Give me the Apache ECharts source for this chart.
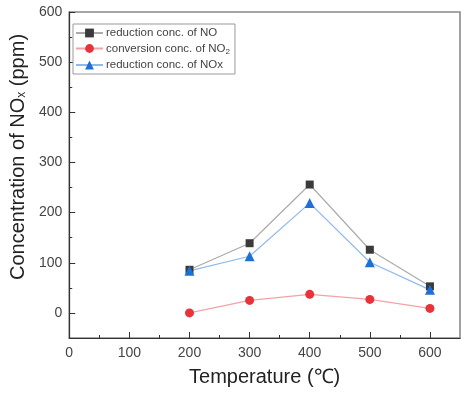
<!DOCTYPE html>
<html>
<head>
<meta charset="utf-8">
<script src="https://cdn.jsdelivr.net/npm/echarts@6/dist/echarts.min.js"></script>
<style>
html,body{margin:0;padding:0;background:#fff;}
#chart{width:468px;height:395px;}
</style>
</head>
<body>
<div id="chart"></div>
<script>
// Data
var temperatures = [200, 300, 400, 500, 600];
var noReduction = [86, 139, 256, 126, 53];
var no2Conversion = [0, 25, 37, 27, 9];
var noxReduction = [84, 113, 219, 101, 46];
var xTickLabels = [0, 100, 200, 300, 400, 500, 600];
var yTickLabels = [0, 100, 200, 300, 400, 500, 600];
var xMinorTicks = [50, 150, 250, 350, 450, 550];
var yMinorTicks = [50, 150, 250, 350, 450, 550];

function pairs(vals) {
  return temperatures.map(function (t, i) { return [t, vals[i]]; });
}

var FONT = '"Liberation Sans", Arial, sans-serif';
var chart = echarts.init(document.getElementById('chart'));

var subRich = {
  sub: { fontSize: 12, verticalAlign: 'bottom', padding: [8, 0, 0, 0], fontFamily: FONT, color: '#222' }
};

chart.setOption({
  animation: false,
  backgroundColor: '#fff',
  grid: {
    left: 57, right: 8, top: 12, bottom: 57,
    show: true, borderColor: '#8a8a8a', borderWidth: 1.6
  },
  legend: {
    orient: 'vertical',
    left: 73, top: 24,
    padding: [3, 5, 3, 2],
    itemWidth: 27, itemHeight: 11, itemGap: 3.5,
    borderColor: '#9a9a9a', borderWidth: 1,
    backgroundColor: '#fff',
    textStyle: {
      fontFamily: FONT, fontSize: 11.5, color: '#444', padding: [0, 0, 0, -2],
      rich: { sub: { fontSize: 8, verticalAlign: 'bottom', padding: [6, 0, 0, 0], fontFamily: FONT, color: '#444' } }
    },
    formatter: function (name) {
      if (name === 'conversion conc. of NO2') return 'conversion conc. of NO{sub|2}';
      return name;
    },
    data: ['reduction conc. of NO', 'conversion conc. of NO2', 'reduction conc. of NOx']
  },
  xAxis: [{
    type: 'value', min: 0, max: 650, position: 'bottom',
    axisLine: { show: true, onZero: false, lineStyle: { color: '#333', width: 1.2 } },
    axisTick: { show: true, inside: true, length: 6, customValues: xTickLabels, lineStyle: { color: '#333', width: 1 } },
    axisLabel: { customValues: xTickLabels, margin: 8, fontFamily: FONT, fontSize: 14, color: '#444' },
    splitLine: { show: false },
    name: 'Temperature (℃)', nameLocation: 'middle', nameGap: 29,
    nameTextStyle: { fontFamily: FONT, fontSize: 20, color: '#222' }
  }, {
    type: 'value', min: 0, max: 650, position: 'bottom', gridIndex: 0,
    axisLine: { show: false, onZero: false },
    axisTick: { show: true, inside: true, length: 3, customValues: xMinorTicks, lineStyle: { color: '#333', width: 1 } },
    axisLabel: { show: false },
    splitLine: { show: false }
  }],
  yAxis: [{
    type: 'value', min: -50, max: 600, position: 'left',
    axisLine: { show: true, onZero: false, lineStyle: { color: '#333', width: 1.2 } },
    axisTick: { show: true, inside: true, length: 6, customValues: yTickLabels, lineStyle: { color: '#333', width: 1 } },
    axisLabel: { customValues: yTickLabels, margin: 7, fontFamily: FONT, fontSize: 14, color: '#444' },
    splitLine: { show: false },
    name: 'Concentration of NO{sub|x} (ppm)', nameLocation: 'middle', nameGap: 34,
    nameTextStyle: { fontFamily: FONT, fontSize: 20, color: '#222', rich: subRich, padding: [0, 0, 0, 36] }
  }, {
    type: 'value', min: -50, max: 600, position: 'left', gridIndex: 0,
    axisLine: { show: false, onZero: false },
    axisTick: { show: true, inside: true, length: 3, customValues: yMinorTicks, lineStyle: { color: '#333', width: 1 } },
    axisLabel: { show: false },
    splitLine: { show: false }
  }],
  series: [{
    name: 'reduction conc. of NO', type: 'line', xAxisIndex: 0, yAxisIndex: 0,
    data: pairs(noReduction),
    symbol: 'rect', symbolSize: 8,
    itemStyle: { color: '#3a3a3a' },
    lineStyle: { color: '#ababab', width: 1.2 }
  }, {
    name: 'conversion conc. of NO2', type: 'line', xAxisIndex: 0, yAxisIndex: 0,
    data: pairs(no2Conversion),
    symbol: 'circle', symbolSize: 9,
    itemStyle: { color: '#e8333a' },
    lineStyle: { color: '#f2a3a5', width: 1.2 }
  }, {
    name: 'reduction conc. of NOx', type: 'line', xAxisIndex: 0, yAxisIndex: 0,
    data: pairs(noxReduction),
    symbol: 'triangle', symbolSize: 10,
    itemStyle: { color: '#1f6fd8' },
    lineStyle: { color: '#8fb9ec', width: 1.2 }
  }]
});
</script>
</body>
</html>
